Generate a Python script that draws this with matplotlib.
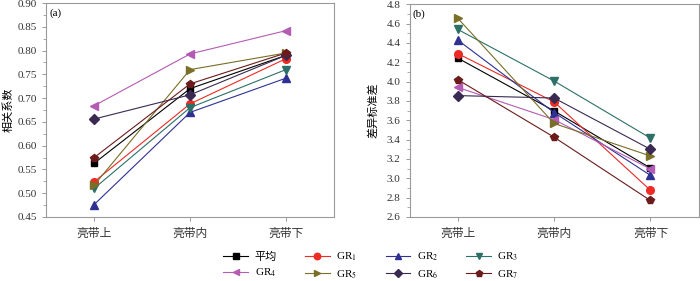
import matplotlib
matplotlib.use("Agg")
import matplotlib.pyplot as plt
from matplotlib.ticker import MultipleLocator

plt.rcParams['font.family'] = ['Liberation Serif', 'Noto Sans CJK SC']
plt.rcParams['mathtext.fontset'] = 'stix'

categories = ['亮带上', '亮带内', '亮带下']
series_names = ['平均', 'GR$_1$', 'GR$_2$', 'GR$_3$', 'GR$_4$', 'GR$_5$', 'GR$_6$', 'GR$_7$']

# (a) 相关系数
corr_avg = [0.563, 0.720, 0.790]
corr_gr1 = [0.524, 0.688, 0.783]
corr_gr2 = [0.476, 0.670, 0.742]
corr_gr3 = [0.510, 0.680, 0.760]
corr_gr4 = [0.684, 0.793, 0.842]
corr_gr5 = [0.517, 0.760, 0.795]
corr_gr6 = [0.656, 0.707, 0.790]
corr_gr7 = [0.575, 0.730, 0.795]

# (b) 差异标准差
std_avg = [4.243, 3.697, 3.106]
std_gr1 = [4.290, 3.790, 2.876]
std_gr2 = [4.430, 3.680, 3.030]
std_gr3 = [4.540, 4.006, 3.415]
std_gr4 = [3.940, 3.607, 3.096]
std_gr5 = [4.656, 3.567, 3.230]
std_gr6 = [3.855, 3.830, 3.300]
std_gr7 = [4.020, 3.425, 2.770]

corr_all = [corr_avg, corr_gr1, corr_gr2, corr_gr3, corr_gr4, corr_gr5, corr_gr6, corr_gr7]
std_all = [std_avg, std_gr1, std_gr2, std_gr3, std_gr4, std_gr5, std_gr6, std_gr7]

colors = ['#000000', '#ee2a24', '#2e3192', '#2c7068', '#b45cb3', '#7a6f27', '#3a2a52', '#6b1b1b']
markers = ['s', 'o', '^', 'v', '<', '>', 'D', 'p']
msizes = [4.5, 5.5, 5.5, 5.5, 5.5, 5.5, 4.8, 5.8]

fig = plt.figure(figsize=(7.0, 2.81), dpi=100)
ax1 = fig.add_axes([0.066, 0.228, 0.411, 0.761])
ax2 = fig.add_axes([0.585, 0.228, 0.413, 0.757])

x = list(range(len(categories)))
handles = []
for i in range(len(series_names)):
    h, = ax1.plot(x, corr_all[i], color=colors[i], marker=markers[i], ms=msizes[i],
                  lw=0.8, label=series_names[i])
    handles.append(h)
    ax2.plot(x, std_all[i], color=colors[i], marker=markers[i], ms=msizes[i], lw=0.8)

ax1.set_ylim(0.45, 0.90)
ax1.yaxis.set_major_locator(MultipleLocator(0.05))
ax1.yaxis.set_minor_locator(MultipleLocator(0.025))
ax1.set_yticklabels([f'{v:.2f}' for v in ax1.get_yticks()])
ax1.set_ylabel('相关系数', fontsize=8, labelpad=3)
ax1.text(0.012, 0.975, '(a)', transform=ax1.transAxes, ha='left', va='top', fontsize=8)

ax2.set_ylim(2.6, 4.8)
ax2.yaxis.set_major_locator(MultipleLocator(0.2))
ax2.yaxis.set_minor_locator(MultipleLocator(0.1))
ax2.set_yticklabels([f'{v:.1f}' for v in ax2.get_yticks()])
ax2.set_ylabel('差异标准差', fontsize=8, labelpad=6)
ax2.text(0.012, 0.975, '(b)', transform=ax2.transAxes, ha='left', va='top', fontsize=8)

for ax in (ax1, ax2):
    ax.set_xlim(-0.5, 2.5)
    ax.set_xticks(x)
    ax.set_xticklabels(categories)
    for s in ax.spines.values():
        s.set_color('#9a9a9a')
        s.set_linewidth(0.8)
    ax.tick_params(axis='both', which='major', direction='out', length=3,
                   width=0.6, color='#8a8a8a', labelsize=8, labelcolor='#333333')
    ax.tick_params(axis='x', labelsize=8.5, pad=5)
    ax.tick_params(axis='y', which='minor', direction='out', length=2,
                   width=0.5, color='#8a8a8a')

# legend filled row by row: reorder for column-major layout
order = [0, 4, 1, 5, 2, 6, 3, 7]
fig.legend(handles=[handles[k] for k in order], loc='upper center',
           bbox_to_anchor=(0.53, 0.135), ncol=4, frameon=False, fontsize=8,
           handlelength=2.2, columnspacing=2.55, labelspacing=0.45, handletextpad=0.6,
           markerscale=0.85, borderpad=0.2)

fig.savefig('out.png', dpi=100)
